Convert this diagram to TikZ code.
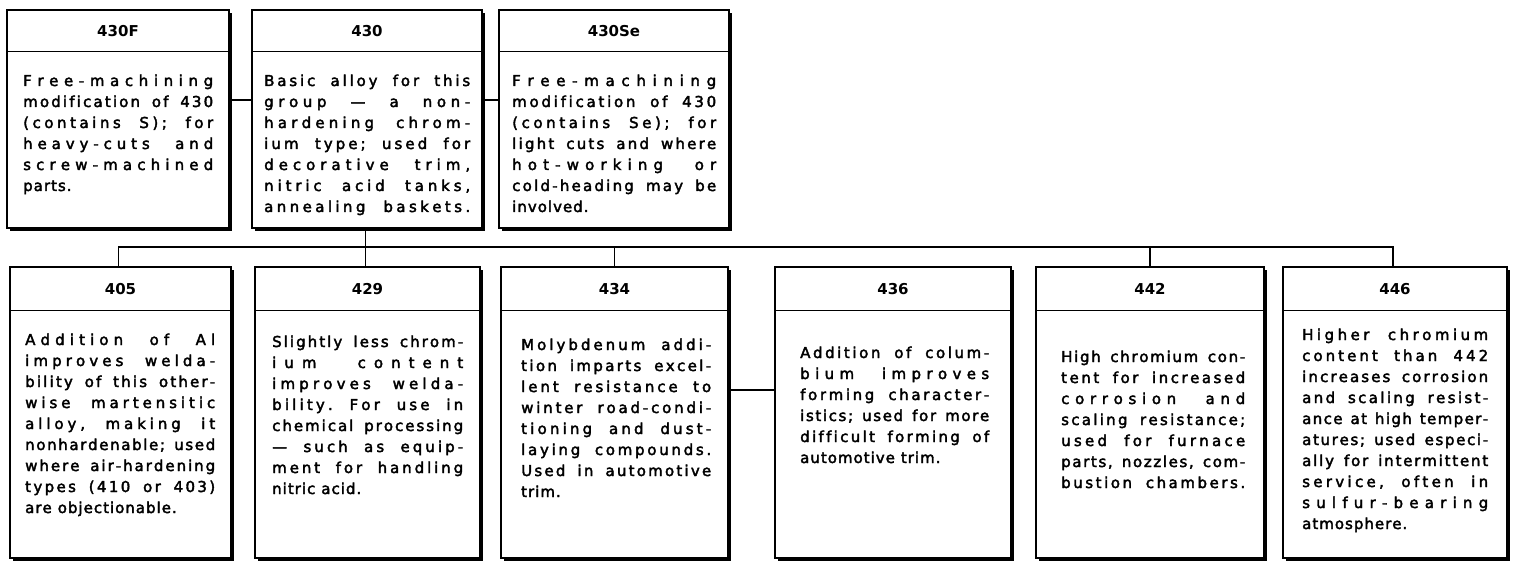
\documentclass[tikz,border=0pt]{standalone}
\usepackage{fontspec}
\setmainfont{DejaVu Sans}
\newfontfamily\bodyfont{DejaVu Sans}[FakeBold=2.5]
\usetikzlibrary{shadows}

\newskip\lgap \lgap=1pt plus 1pt minus 0.6pt
\newskip\wgap \wgap=6pt plus 5pt minus 2pt
\newcommand*\lspend{LSPEND}
\newcommand*\Jend{JEND}
\def\lsp#1{\lspfirst#1\lspend}
\def\lspfirst#1{#1\lspaux}
\def\lspaux#1{\ifx#1\lspend\else\hskip\lgap\relax#1\expandafter\lspaux\fi}
\def\Jw#1 #2\Jend{\lsp{#1}\ifx\Jend#2\Jend\else\hskip\wgap\relax\Jw#2\Jend\fi}
\def\J#1{\hbox to\hsize{\Jw#1 \Jend}}
\def\Jlast#1{\hbox to\hsize{\Jw#1 \Jend\hfil}}
\newcommand\bodytext[2]{\parbox[t]{#1}{\bodyfont\fontsize{15pt}{21pt}\selectfont\baselineskip=21pt\lineskiplimit=-20pt #2}}

\tikzset{
  box/.style={draw=black, line width=1.3pt, fill=white, rectangle, inner sep=0pt,
    drop shadow={shadow xshift=2.6pt, shadow yshift=-2.6pt, opacity=1, fill=black}},
  divline/.style={line width=1pt},
  hdr/.style={font=\fontsize{15pt}{17pt}\selectfont\bfseries, inner sep=0pt},
  body/.style={anchor=base west, inner sep=0pt},
  conn/.style={line width=1.2pt}
}

\begin{document}
\begin{tikzpicture}[x=1pt,y=-1pt]
\useasboundingbox[fill=white] (0,0) rectangle (1517,564);

% reference coordinates
\coordinate (hTop) at (0,52);
\coordinate (hTopTxt) at (0,31);
\coordinate (hBot) at (0,310);
\coordinate (hBotTxt) at (0,289);
\coordinate (yTop) at (0,100);
\coordinate (bus) at (0,247);
\coordinate (yMid) at (0,390);

% top boxes
\node[box, minimum width=222pt, minimum height=218pt] (b430F) at (118,119) {};
\node[box, minimum width=230pt, minimum height=218pt] (b430) at (367,119) {};
\node[box, minimum width=230pt, minimum height=218pt] (b430Se) at (614,119) {};
% bottom boxes
\node[box, minimum width=221pt, minimum height=291pt] (b405) at (120.5,412.5) {};
\node[box, minimum width=225pt, minimum height=291pt] (b429) at (367.5,412.5) {};
\node[box, minimum width=227pt, minimum height=291pt] (b434) at (614.5,412.5) {};
\node[box, minimum width=236pt, minimum height=291pt] (b436) at (893,412.5) {};
\node[box, minimum width=228pt, minimum height=291pt] (b442) at (1150,412.5) {};
\node[box, minimum width=224pt, minimum height=291pt] (b446) at (1395,412.5) {};

% header dividers
\foreach \b in {b430F,b430,b430Se}{\draw[divline] (\b.west |- hTop) -- (\b.east |- hTop);}
\foreach \b in {b405,b429,b434,b436,b442,b446}{\draw[divline] (\b.west |- hBot) -- (\b.east |- hBot);}

% headers
\node[hdr] (h430F) at (b430F.north |- hTopTxt) {430F};
\node[hdr] (h430) at (b430.north |- hTopTxt) {430};
\node[hdr] (h430Se) at (b430Se.north |- hTopTxt) {430Se};
\node[hdr] (h405) at (b405.north |- hBotTxt) {405};
\node[hdr] (h429) at (b429.north |- hBotTxt) {429};
\node[hdr] (h434) at (b434.north |- hBotTxt) {434};
\node[hdr] (h436) at (b436.north |- hBotTxt) {436};
\node[hdr] (h442) at (b442.north |- hBotTxt) {442};
\node[hdr] (h446) at (b446.north |- hBotTxt) {446};

% connectors
\draw[conn] (b430F.east |- yTop) -- (b430.west |- yTop);
\draw[conn] (b430.east |- yTop) -- (b430Se.west |- yTop);
\draw[conn] ([xshift=-1.5pt]b430.south) -- ([xshift=-1.5pt]b430.south |- b429.north);
\draw[conn] ([xshift=-2pt]b405.north) -- ([xshift=-2pt]b405.north |- bus) -- ([xshift=-2pt]b446.north |- bus) -- ([xshift=-2pt]b446.north);
\draw[conn] (b434.north) -- (b434.north |- bus);
\draw[conn] (b442.north) -- (b442.north |- bus);
\draw[conn] (b434.east |- yMid) -- (b436.west |- yMid);

% body texts
\node[body] (t430F) at (23,86) {\bodytext{190pt}{%
\J{Free-machining}
\J{modification of 430}
\J{(contains S); for}
\J{heavy-cuts and}
\J{screw-machined}
\Jlast{parts.}}};

\node[body] (t430) at (264,86) {\bodytext{206pt}{%
\J{Basic alloy for this}
\J{group — a non-}
\J{hardening chrom-}
\J{ium type; used for}
\J{decorative trim,}
\J{nitric acid tanks,}
\J{annealing baskets.}}};

\node[body] (t430Se) at (512,86) {\bodytext{204pt}{%
\J{Free-machining}
\J{modification of 430}
\J{(contains Se); for}
\J{light cuts and where}
\J{hot-working or}
\J{cold-heading may be}
\Jlast{involved.}}};

\node[body] (t405) at (25,345) {\bodytext{190pt}{%
\J{Addition of Al}
\J{improves welda-}
\J{bility of this other-}
\J{wise martensitic}
\J{alloy, making it}
\J{nonhardenable; used}
\J{where air-hardening}
\J{types (410 or 403)}
\Jlast{are objectionable.}}};

\node[body] (t429) at (272,347) {\bodytext{191pt}{%
\J{Slightly less chrom-}
\J{ium content}
\J{improves welda-}
\J{bility. For use in}
\J{chemical processing}
\J{— such as equip-}
\J{ment for handling}
\Jlast{nitric acid.}}};

\node[body] (t434) at (521,350) {\bodytext{190pt}{%
\J{Molybdenum addi-}
\J{tion imparts excel-}
\J{lent resistance to}
\J{winter road-condi-}
\J{tioning and dust-}
\J{laying compounds.}
\J{Used in automotive}
\Jlast{trim.}}};

\node[body] (t436) at (800,358) {\bodytext{189pt}{%
\J{Addition of colum-}
\J{bium improves}
\J{forming character-}
\J{istics; used for more}
\J{difficult forming of}
\Jlast{automotive trim.}}};

\node[body] (t442) at (1061,362) {\bodytext{184pt}{%
\J{High chromium con-}
\J{tent for increased}
\J{corrosion and}
\J{scaling resistance;}
\J{used for furnace}
\J{parts, nozzles, com-}
\J{bustion chambers.}}};

\node[body] (t446) at (1302,340) {\bodytext{186pt}{%
\J{Higher chromium}
\J{content than 442}
\J{increases corrosion}
\J{and scaling resist-}
\J{ance at high temper-}
\J{atures; used especi-}
\J{ally for intermittent}
\J{service, often in}
\J{sulfur-bearing}
\Jlast{atmosphere.}}};
\end{tikzpicture}
\end{document}
